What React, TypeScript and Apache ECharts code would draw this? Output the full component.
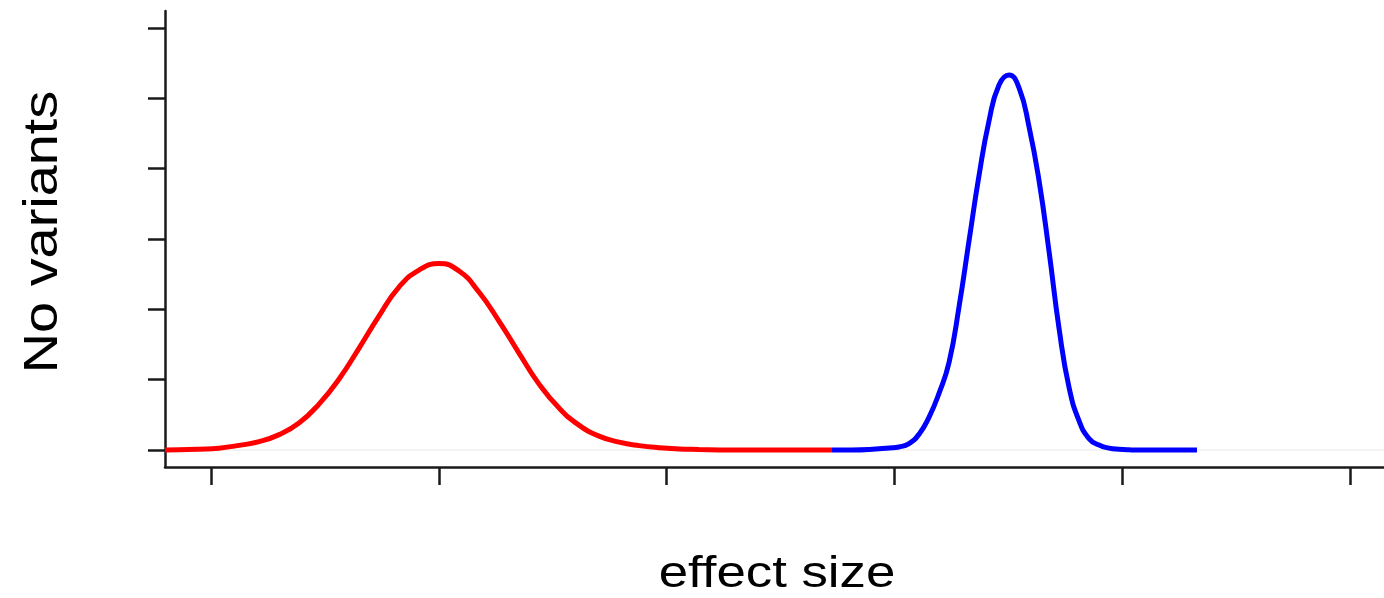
import React, { useEffect, useRef } from "react";
import * as echarts from "echarts";

// Effect size positions (x) and density ("No variants", y)
const redX = [-0.202, -0.14, -0.053, 0.035, 0.123, 0.211, 0.299, 0.386, 0.474, 0.562, 0.65, 0.737, 0.825, 0.913, 1.001, 1.089, 1.176, 1.264, 1.352, 1.44, 1.528, 1.615, 1.703, 1.791, 1.879, 1.967, 2.054, 2.142, 2.23, 2.318, 2.406, 2.493, 2.581, 2.669, 2.726];
const redY = [0.002, 0.004, 0.013, 0.028, 0.067, 0.121, 0.22, 0.384, 0.654, 1.01, 1.45, 1.905, 2.317, 2.559, 2.652, 2.545, 2.246, 1.834, 1.379, 0.938, 0.597, 0.355, 0.199, 0.114, 0.064, 0.034, 0.017, 0.009, 0.003, 0.0, 0.0, 0.0, 0.0, 0.0, 0.0];

const blueX = [2.726, 2.801, 2.889, 2.977, 3.02, 3.064, 3.108, 3.152, 3.196, 3.24, 3.284, 3.328, 3.371, 3.415, 3.459, 3.503, 3.547, 3.591, 3.635, 3.679, 3.723, 3.767, 3.811, 3.854, 3.898, 3.942, 3.986, 4.03, 4.118, 4.205, 4.328];
const blueY = [0.0, 0.001, 0.009, 0.031, 0.045, 0.092, 0.227, 0.469, 0.81, 1.251, 2.047, 2.986, 3.896, 4.678, 5.19, 5.332, 5.147, 4.592, 3.824, 2.815, 1.72, 0.882, 0.412, 0.164, 0.071, 0.028, 0.011, 0.004, 0.0, 0.0, 0.0];

const xTickValues = [0, 1, 2, 3, 4, 5];
const yTickValues = [0, 1, 2, 3, 4, 5, 6];
const xRange = [-0.202, 5.149];
const yRange = [-0.24, 6.24];
const baselineY = 0;
const xLabel = "effect size";
const yLabel = "No variants";

const AXIS_COLOR = "#1a1a1a";
const FONT = "'Liberation Sans', Arial, Helvetica, sans-serif";

export default function App() {
  const ref = useRef<HTMLDivElement>(null);

  useEffect(() => {
    document.body.style.margin = "0";
    if (!ref.current) return;
    const chart = echarts.init(ref.current, undefined, { renderer: "svg" });
    const red = redX.map((x, i) => [x, redY[i]]);
    const blue = blueX.map((x, i) => [x, blueY[i]]);
    const baseline = xRange.map((x) => [x, baselineY]);
    chart.setOption({
      animation: false,
      backgroundColor: "#ffffff",
      grid: { left: 165, right: 0, top: 11, bottom: 131, containLabel: false },
      xAxis: {
        type: "value",
        min: xRange[0],
        max: xRange[1],
        axisLine: { show: true, onZero: false, lineStyle: { color: AXIS_COLOR, width: 2.5 } },
        axisTick: {
          show: true,
          length: 18,
          customValues: xTickValues,
          lineStyle: { color: AXIS_COLOR, width: 2.5 },
        },
        axisLabel: { show: false },
        splitLine: { show: false },
      },
      yAxis: {
        type: "value",
        min: yRange[0],
        max: yRange[1],
        axisLine: { show: true, onZero: false, lineStyle: { color: AXIS_COLOR, width: 2.5 } },
        axisTick: {
          show: true,
          length: 17,
          customValues: yTickValues,
          lineStyle: { color: AXIS_COLOR, width: 2.5 },
        },
        axisLabel: { show: false },
        splitLine: { show: false },
      },
      graphic: [
        {
          type: "text",
          x: 777,
          y: 572,
          scaleX: 1.2,
          style: {
            text: xLabel,
            font: `44px ${FONT}`,
            fill: "#000000",
            align: "center",
            verticalAlign: "middle",
          },
        },
        {
          type: "text",
          x: 40,
          y: 232,
          rotation: Math.PI / 2,
          scaleX: 1.14,
          style: {
            text: yLabel,
            font: `49px ${FONT}`,
            fill: "#000000",
            align: "center",
            verticalAlign: "middle",
          },
        },
      ],
      series: [
        {
          type: "line",
          data: baseline,
          z: 1,
          silent: true,
          showSymbol: false,
          lineStyle: { color: "#f3f3f3", width: 2 },
          itemStyle: { color: "#f3f3f3" },
        },
        {
          type: "line",
          data: red,
          z: 3,
          smooth: 0.5,
          showSymbol: false,
          lineStyle: { color: "#ff0000", width: 5 },
          itemStyle: { color: "#ff0000" },
        },
        {
          type: "line",
          data: blue,
          z: 3,
          smooth: 0.5,
          showSymbol: false,
          lineStyle: { color: "#0000ff", width: 5 },
          itemStyle: { color: "#0000ff" },
        },
      ],
    });
    return () => chart.dispose();
  }, []);

  return <div ref={ref} style={{ width: 1384, height: 598 }} />;
}
